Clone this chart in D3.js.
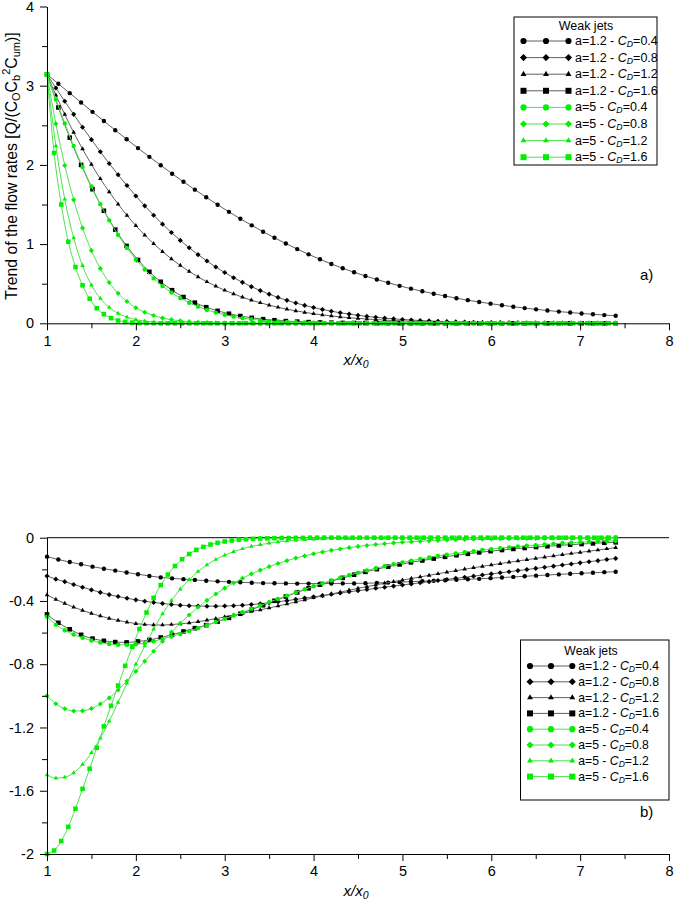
<!DOCTYPE html>
<html><head><meta charset="utf-8">
<script src="https://cdn.jsdelivr.net/npm/d3@7"></script>
<style>
body{margin:0;background:#fff}
svg{display:block}
text{font-family:"Liberation Sans",Arial,sans-serif;fill:#000}
</style>
</head><body>
<svg id="c" width="675" height="908"></svg>
<script>
// ---------- x grids (x/x0) ----------
const X13 = [1,1.128,1.256,1.384,1.512,1.64,1.768,1.896,2.024,2.152,2.28,2.408,2.536,2.664,2.792,2.92,3.048,3.176,3.304,3.432,3.56,3.688,3.816,3.944,4.072,4.2,4.328,4.456,4.584,4.712,4.84,4.968,5.096,5.224,5.352,5.48,5.608,5.736,5.864,5.992,6.12,6.248,6.376,6.504,6.632,6.76,6.888,7.016,7.144,7.272,7.4];
const X10 = [1,1.1,1.2,1.3,1.4,1.5,1.6,1.7,1.8,1.9,2,2.1,2.2,2.3,2.4,2.5,2.6,2.7,2.8,2.9,3,3.1,3.2,3.3,3.4,3.5,3.6,3.7,3.8,3.9,4,4.1,4.2,4.3,4.4,4.5,4.6,4.7,4.8,4.9,5,5.1,5.2,5.3,5.4,5.5,5.6,5.7,5.8,5.9,6,6.1,6.2,6.3,6.4,6.5,6.6,6.7,6.8,6.9,7,7.1,7.2,7.3,7.4];
const X08 = [1,1.08,1.16,1.24,1.32,1.4,1.48,1.56,1.64,1.72,1.8,1.88,1.96,2.04,2.12,2.2,2.28,2.36,2.44,2.52,2.6,2.68,2.76,2.84,2.92,3,3.08,3.16,3.24,3.32,3.4,3.48,3.56,3.64,3.72,3.8,3.88,3.96,4.04,4.12,4.2,4.28,4.36,4.44,4.52,4.6,4.68,4.76,4.84,4.92,5,5.08,5.16,5.24,5.32,5.4,5.48,5.56,5.64,5.72,5.8,5.88,5.96,6.04,6.12,6.2,6.28,6.36,6.44,6.52,6.6,6.68,6.76,6.84,6.92,7,7.08,7.16,7.24,7.32,7.4];

// ---------- panel a) flow rates ----------
const topA12_04 = [3.142,3.024,2.906,2.788,2.670,2.554,2.438,2.324,2.212,2.102,1.995,1.889,1.787,1.687,1.591,1.497,1.407,1.320,1.237,1.156,1.080,1.007,0.937,0.871,0.808,0.749,0.695,0.644,0.597,0.553,0.512,0.473,0.437,0.404,0.373,0.344,0.317,0.292,0.269,0.248,0.228,0.209,0.192,0.176,0.162,0.148,0.136,0.124,0.114,0.104,0.095];
const topA12_08 = [3.142,2.971,2.803,2.638,2.476,2.319,2.166,2.018,1.875,1.739,1.608,1.483,1.364,1.252,1.146,1.047,0.954,0.867,0.786,0.710,0.641,0.576,0.517,0.463,0.413,0.368,0.327,0.290,0.256,0.226,0.199,0.174,0.153,0.133,0.116,0.101,0.087,0.076,0.065,0.056,0.048,0.041,0.035,0.030,0.025,0.022,0.018,0.015,0.013,0.011,0.009,0.008,0.006,0.005,0.004,0.004,0.003,0.002,0.002,0.002,0.001,0.001,0.001,0.001,0.001];
const topA12_12 = [3.142,2.881,2.637,2.411,2.201,2.006,1.825,1.659,1.505,1.363,1.233,1.114,1.005,0.905,0.814,0.730,0.655,0.586,0.524,0.468,0.417,0.371,0.329,0.292,0.259,0.229,0.202,0.178,0.157,0.138,0.121,0.106,0.093,0.081,0.071,0.062,0.054,0.047,0.041,0.035,0.030,0.026,0.023,0.019,0.017,0.014,0.012,0.011,0.009,0.008,0.007,0.006,0.005,0.004,0.003,0.003,0.002,0.002,0.002,0.001,0.001,0.001,0.001,0.001,0.001];
const topA12_16 = [3.142,2.725,2.344,2.000,1.693,1.421,1.183,0.977,0.800,0.650,0.524,0.418,0.332,0.261,0.203,0.157,0.121,0.092,0.069,0.052,0.039,0.028,0.021,0.015,0.011,0.008,0.005,0.004,0.003,0.002,0.001,0.001,0,0,0,0,0,0,0,0,0,0,0,0,0,0,0,0,0,0,0];
const topA5_04 = [3.142,2.825,2.523,2.239,1.974,1.729,1.504,1.300,1.116,0.952,0.806,0.679,0.567,0.471,0.389,0.319,0.260,0.210,0.169,0.135,0.107,0.084,0.066,0.051,0.040,0.030,0.023,0.018,0.013,0.010,0.007,0.005,0.004,0.003,0.002,0.001,0.001,0.001,0,0,0,0,0,0,0,0,0,0,0,0,0,0,0,0,0,0,0,0,0,0,0,0,0,0,0];
const topA5_08 = [3.142,2.518,1.994,1.559,1.204,0.918,0.692,0.515,0.378,0.275,0.197,0.139,0.098,0.067,0.046,0.031,0.021,0.014,0.009,0.006,0.004,0.002,0.001,0.001,0,0,0,0,0,0,0,0,0,0,0,0,0,0,0,0,0,0,0,0,0,0,0,0,0,0,0,0,0,0,0,0,0,0,0,0,0,0,0,0,0];
const topA5_12 = [3.142,2.238,1.566,1.077,0.727,0.482,0.314,0.201,0.126,0.078,0.047,0.028,0.016,0.009,0.005,0.003,0.002,0.001,0,0,0,0,0,0,0,0,0,0,0,0,0,0,0,0,0,0,0,0,0,0,0,0,0,0,0,0,0,0,0,0,0,0,0,0,0,0,0,0,0,0,0,0,0,0,0];
const topA5_16 = [3.142,2.150,1.500,1.030,0.710,0.480,0.310,0.190,0.115,0.065,0.035,0.018,0.009,0.004,0.002,0.001,0,0,0,0,0,0,0,0,0,0,0,0,0,0,0,0,0,0,0,0,0,0,0,0,0,0,0,0,0,0,0,0,0,0,0,0,0,0,0,0,0,0,0,0,0,0,0,0,0,0,0,0,0,0,0,0,0,0,0,0,0,0,0,0,0];

// ---------- panel b) ----------
const botA12_04 = [-0.120,-0.138,-0.154,-0.168,-0.183,-0.196,-0.208,-0.220,-0.231,-0.242,-0.251,-0.257,-0.262,-0.267,-0.272,-0.276,-0.279,-0.282,-0.285,-0.287,-0.288,-0.289,-0.290,-0.290,-0.290,-0.290,-0.289,-0.289,-0.288,-0.286,-0.284,-0.281,-0.278,-0.275,-0.272,-0.269,-0.266,-0.263,-0.260,-0.256,-0.252,-0.248,-0.244,-0.240,-0.236,-0.232,-0.228,-0.225,-0.222,-0.218,-0.215];
const botA12_08 = [-0.242,-0.262,-0.278,-0.296,-0.313,-0.330,-0.346,-0.360,-0.372,-0.383,-0.393,-0.402,-0.409,-0.416,-0.422,-0.427,-0.430,-0.432,-0.433,-0.433,-0.432,-0.430,-0.427,-0.423,-0.418,-0.412,-0.405,-0.398,-0.390,-0.382,-0.374,-0.366,-0.358,-0.350,-0.342,-0.335,-0.328,-0.320,-0.313,-0.306,-0.299,-0.292,-0.285,-0.278,-0.271,-0.264,-0.257,-0.250,-0.243,-0.236,-0.229,-0.222,-0.215,-0.208,-0.201,-0.194,-0.187,-0.180,-0.173,-0.166,-0.159,-0.152,-0.145,-0.138,-0.131];
const botA12_12 = [-0.362,-0.390,-0.416,-0.439,-0.460,-0.479,-0.495,-0.510,-0.523,-0.534,-0.543,-0.549,-0.552,-0.552,-0.549,-0.545,-0.539,-0.531,-0.522,-0.512,-0.501,-0.490,-0.479,-0.467,-0.456,-0.444,-0.432,-0.419,-0.406,-0.393,-0.380,-0.368,-0.356,-0.344,-0.332,-0.320,-0.309,-0.299,-0.288,-0.278,-0.268,-0.258,-0.248,-0.238,-0.228,-0.218,-0.209,-0.199,-0.190,-0.181,-0.172,-0.164,-0.155,-0.147,-0.139,-0.131,-0.123,-0.115,-0.107,-0.100,-0.093,-0.085,-0.078,-0.070,-0.063];
const botA12_16 = [-0.485,-0.538,-0.579,-0.614,-0.638,-0.652,-0.660,-0.662,-0.656,-0.646,-0.631,-0.614,-0.593,-0.572,-0.553,-0.531,-0.507,-0.481,-0.454,-0.427,-0.399,-0.372,-0.346,-0.320,-0.297,-0.275,-0.254,-0.234,-0.216,-0.199,-0.183,-0.169,-0.156,-0.144,-0.132,-0.121,-0.111,-0.102,-0.093,-0.085,-0.078,-0.071,-0.065,-0.059,-0.054,-0.049,-0.044,-0.040,-0.036,-0.032,-0.029];
const botA5_04 = [-0.500,-0.550,-0.585,-0.612,-0.633,-0.650,-0.663,-0.672,-0.677,-0.678,-0.674,-0.667,-0.655,-0.641,-0.625,-0.609,-0.590,-0.572,-0.553,-0.533,-0.513,-0.492,-0.471,-0.450,-0.429,-0.408,-0.387,-0.366,-0.346,-0.326,-0.307,-0.288,-0.270,-0.253,-0.237,-0.221,-0.207,-0.193,-0.180,-0.168,-0.156,-0.145,-0.135,-0.125,-0.116,-0.107,-0.099,-0.092,-0.085,-0.078,-0.072,-0.066,-0.061,-0.056,-0.051,-0.047,-0.043,-0.039,-0.035,-0.032,-0.029,-0.026,-0.023,-0.021,-0.019];
const botA5_08 = [-1.000,-1.050,-1.082,-1.096,-1.095,-1.080,-1.052,-1.013,-0.963,-0.906,-0.845,-0.781,-0.718,-0.656,-0.597,-0.541,-0.489,-0.440,-0.396,-0.356,-0.319,-0.286,-0.256,-0.229,-0.205,-0.183,-0.163,-0.145,-0.129,-0.115,-0.102,-0.090,-0.080,-0.071,-0.063,-0.055,-0.049,-0.043,-0.038,-0.033,-0.029,-0.026,-0.023,-0.020,-0.017,-0.015,-0.013,-0.011,-0.010,-0.009,-0.008,-0.007,-0.006,-0.005,-0.004,-0.004,-0.003,-0.003,-0.002,-0.002,-0.002,-0.001,-0.001,-0.001,-0.001];
const botA5_12 = [-1.500,-1.520,-1.515,-1.487,-1.434,-1.360,-1.268,-1.160,-1.042,-0.920,-0.800,-0.685,-0.578,-0.482,-0.398,-0.326,-0.265,-0.214,-0.172,-0.138,-0.110,-0.088,-0.070,-0.055,-0.044,-0.035,-0.027,-0.021,-0.017,-0.013,-0.010,-0.008,-0.006,-0.005,-0.004,-0.003,-0.002,-0.002,-0.001,0,0,0,0,0,0,0,0,0,0,0,0,0,0,0,0,0,0,0,0,0,0,0,0,0,0];
const botA5_16 = [-2.000,-1.978,-1.918,-1.828,-1.714,-1.588,-1.461,-1.328,-1.193,-1.063,-0.935,-0.810,-0.690,-0.577,-0.473,-0.380,-0.300,-0.233,-0.179,-0.136,-0.103,-0.077,-0.058,-0.043,-0.032,-0.024,-0.018,-0.013,-0.010,-0.007,-0.005,-0.004,-0.003,-0.002,-0.002,-0.001,-0.001,0,0,0,0,0,0,0,0,0,0,0,0,0,0,0,0,0,0,0,0,0,0,0,0,0,0,0,0,0,0,0,0,0,0,0,0,0,0,0,0,0,0,0,0];

// ---------- labels / ticks ----------
const seriesA = ["1.2","1.2","1.2","1.2","5","5","5","5"];
const seriesCD = ["0.4","0.8","1.2","1.6","0.4","0.8","1.2","1.6"];
const legendTitle = "Weak jets";
const xTicks = [1,2,3,4,5,6,7,8];
const xMinor = [1.5,2.5,3.5,4.5,5.5,6.5,7.5];
const yTopTicks = [0,1,2,3,4];
const yTopMinor = [0.5,1.5,2.5,3.5];
const yBotTicks = [-2,-1.6,-1.2,-0.8,-0.4,0];
const yBotMinor = [-1.8,-1.4,-1.0,-0.6,-0.2];

// ---------- build ----------
const svg = d3.select("#c");
const symDiamond = {draw(ctx,size){const r=Math.sqrt(size/2);ctx.moveTo(0,-r);ctx.lineTo(r,0);ctx.lineTo(0,r);ctx.lineTo(-r,0);ctx.closePath();}};
const shapes = [d3.symbolCircle, symDiamond, d3.symbolTriangle, d3.symbolSquare];
const plotSize = [15, 13, 9, 21];
const legSize = [30, 25, 15, 36];
const BLACK = {line:"#606060", mark:"#000"};
const GREEN = {line:"#4fe24f", mark:"#00f000"};

const series = [
  {xt:X13, yt:topA12_04, xb:X13, yb:botA12_04},
  {xt:X10, yt:topA12_08, xb:X10, yb:botA12_08},
  {xt:X10, yt:topA12_12, xb:X10, yb:botA12_12},
  {xt:X13, yt:topA12_16, xb:X13, yb:botA12_16},
  {xt:X10, yt:topA5_04, xb:X10, yb:botA5_04},
  {xt:X10, yt:topA5_08, xb:X10, yb:botA5_08},
  {xt:X10, yt:topA5_12, xb:X10, yb:botA5_12},
  {xt:X08, yt:topA5_16, xb:X08, yb:botA5_16}
].map((s,i)=>Object.assign(s,{a:seriesA[i], cd:seriesCD[i], shape:shapes[i%4], ps:plotSize[i%4], ls:legSize[i%4], col: i<4?BLACK:GREEN}));

const x = d3.scaleLinear().domain([1,8]).range([47,669]);
const yT = d3.scaleLinear().domain([0,4]).range([323.3,6.5]);
const yB = d3.scaleLinear().domain([-2,0]).range([854,537.7]);
const fmt = d => String(+d.toFixed(1));
const TICKFS = 14.5;

function axes(g, yScale, y0, yTicks, yMinor){
  const xa = g.append("g").attr("transform",`translate(0,${y0})`);
  xa.call(d3.axisBottom(x).tickValues(xTicks).tickFormat(fmt).tickSize(7).tickPadding(5).tickSizeOuter(0));
  xa.append("g").call(d3.axisBottom(x).tickValues(xMinor).tickFormat("").tickSize(5).tickSizeOuter(0)).select(".domain").remove();
  const ya = g.append("g").attr("transform",`translate(47,0)`);
  ya.call(d3.axisLeft(yScale).tickValues(yTicks).tickFormat(fmt).tickSize(7).tickPadding(6).tickSizeOuter(0));
  ya.append("g").call(d3.axisLeft(yScale).tickValues(yMinor).tickFormat("").tickSize(5).tickSizeOuter(0)).select(".domain").remove();
  g.selectAll(".tick text").attr("font-size",TICKFS).attr("font-family","Liberation Sans, Arial, sans-serif").attr("fill","#000");
  g.selectAll(".domain,.tick line").attr("stroke","#000").attr("stroke-width",1);
}

function drawSeries(g, yScale, key){
  series.forEach(s=>{
    const pts = s["x"+key].map((xv,i)=>[xv, s["y"+key][i]]);
    g.append("path").datum(pts)
      .attr("d", d3.line().x(d=>x(d[0])).y(d=>yScale(d[1])).curve(d3.curveMonotoneX))
      .attr("fill","none").attr("stroke",s.col.line).attr("stroke-width",1);
    g.append("g").selectAll("path").data(pts).join("path")
      .attr("transform",d=>`translate(${x(d[0])},${yScale(d[1])})`)
      .attr("d", d3.symbol().type(s.shape).size(s.ps))
      .attr("fill",s.col.mark);
  });
}

function legend(g, left, top, w, h, titleX, titleY, row0, dy, mx, tx, fs){
  g.append("rect").attr("x",left).attr("y",top).attr("width",w).attr("height",h)
    .attr("fill","#fff").attr("stroke","#000").attr("stroke-width",1);
  g.append("text").attr("x",titleX).attr("y",titleY).attr("text-anchor","middle")
    .attr("dominant-baseline","central").attr("font-size",fs).text(legendTitle);
  series.forEach((s,i)=>{
    const yy = row0 + i*dy;
    g.append("line").attr("x1",mx[0]).attr("x2",mx[2]).attr("y1",yy).attr("y2",yy)
      .attr("stroke",s.col.line).attr("stroke-width",1);
    mx.forEach(m=>g.append("path").attr("transform",`translate(${m},${yy})`)
      .attr("d",d3.symbol().type(s.shape).size(s.ls)).attr("fill",s.col.mark));
    const t = g.append("text").attr("x",tx).attr("y",yy).attr("dominant-baseline","central").attr("font-size",fs);
    t.append("tspan").text(`a=${s.a} - `);
    t.append("tspan").attr("font-style","italic").text("C");
    t.append("tspan").attr("font-style","italic").attr("font-size",fs*0.7).attr("dy",3).text("D");
    t.append("tspan").attr("dy",-3).text(`=${s.cd}`);
  });
}

// panel a
const ga = svg.append("g");
drawSeries(ga, yT, "t");
axes(ga, yT, 323.3, yTopTicks, yTopMinor);
legend(ga, 514, 17, 143, 148, 586, 26, 41, 16.6, [523.5,546,568.5], 575, 12.5);
ga.append("text").attr("x",640).attr("y",280).attr("font-size",15).text("a)");
const xt1 = ga.append("text").attr("x",356).attr("y",365).attr("text-anchor","middle").attr("font-size",15).attr("font-style","italic");
xt1.append("tspan").text("x/x");
xt1.append("tspan").attr("font-size",10.5).attr("dy",3).text("0");
const yt = ga.append("text").attr("transform","translate(17,166) rotate(-90)").attr("text-anchor","middle").attr("font-size",15.8);
yt.append("tspan").text("Trend of the flow rates [Q/(C");
yt.append("tspan").attr("font-size",11).attr("dy",3).text("O");
yt.append("tspan").attr("dy",-3).text("C");
yt.append("tspan").attr("font-size",11).attr("dy",3).text("b");
yt.append("tspan").attr("font-size",11).attr("dy",-10).text("2");
yt.append("tspan").attr("dy",7).text("C");
yt.append("tspan").attr("font-size",11).attr("dy",3).text("um");
yt.append("tspan").attr("dy",-3).text(")]");

// panel b
const gb = svg.append("g");
gb.append("line").attr("x1",47).attr("x2",669).attr("y1",yB(0)).attr("y2",yB(0)).attr("stroke","#000");
drawSeries(gb, yB, "b");
axes(gb, yB, 854, yBotTicks, yBotMinor);
legend(gb, 520.5, 640, 148.5, 160, 591, 651, 666, 15.8, [530,551,572.3], 578.3, 12.2);
gb.append("text").attr("x",640).attr("y",817).attr("font-size",15).text("b)");
const xt2 = gb.append("text").attr("x",356).attr("y",896).attr("text-anchor","middle").attr("font-size",15).attr("font-style","italic");
xt2.append("tspan").text("x/x");
xt2.append("tspan").attr("font-size",10.5).attr("dy",3).text("0");
</script>
</body></html>
